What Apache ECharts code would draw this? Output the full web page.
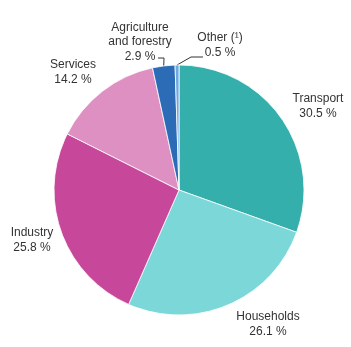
<!DOCTYPE html>
<html>
<head>
<meta charset="utf-8">
<script src="https://cdn.jsdelivr.net/npm/echarts@6/dist/echarts.min.js"></script>
<style>
  html, body { margin: 0; padding: 0; background: #fff; }
  #chart { width: 351px; height: 347px; }
</style>
</head>
<body>
<div id="chart"></div>
<script>
// Final energy consumption by sector (%)
const sectors = ['Transport', 'Households', 'Industry', 'Services', 'Agriculture\nand forestry', 'Other (¹)'];
const shares = [30.5, 26.1, 25.8, 14.2, 2.9, 0.5];
const colors = ['#34afac', '#7cd8d8', '#c7489a', '#de90c2', '#2c6bb6', '#6ea8e2'];

// Label anchor points (centre of each text block) and leader-line routes
const labelSpots = [
  { x: 318, y: 106 },
  { x: 268, y: 324 },
  { x: 32, y: 240 },
  { x: 73, y: 72 },
  { x: 140, y: 42 },
  { x: 220, y: 45 }
];
const leaderBends = [null, null, null, null, [[164, 58], [158, 58]], [[191, 57], [203, 57]]];

const chart = echarts.init(document.getElementById('chart'), null, { renderer: 'canvas' });
chart.setOption({
  animation: false,
  series: [{
    type: 'pie',
    center: [179, 190],
    radius: 125,
    startAngle: 90,
    clockwise: true,
    data: sectors.map((name, i) => ({
      name: name,
      value: shares[i],
      itemStyle: { color: colors[i] },
      labelLine: { show: leaderBends[i] !== null }
    })),
    itemStyle: { borderColor: '#ffffff', borderWidth: 0.8 },
    label: {
      show: true,
      position: 'outside',
      overflow: 'none',
      width: 120,
      formatter: p => p.name + '\n' + p.value.toFixed(1) + ' %',
      fontFamily: 'Liberation Sans, Arial, sans-serif',
      fontSize: 12,
      lineHeight: 14.5,
      color: '#333333',
      align: 'center'
    },
    labelLine: {
      lineStyle: { color: '#333333', width: 1 }
    },
    labelLayout: function (params) {
      const spot = labelSpots[params.dataIndex];
      const out = { x: spot.x, y: spot.y, align: 'center', verticalAlign: 'middle' };
      const bend = leaderBends[params.dataIndex];
      if (bend && params.labelLinePoints) {
        out.labelLinePoints = [params.labelLinePoints[0]].concat(bend);
      }
      return out;
    }
  }]
});
</script>
</body>
</html>
